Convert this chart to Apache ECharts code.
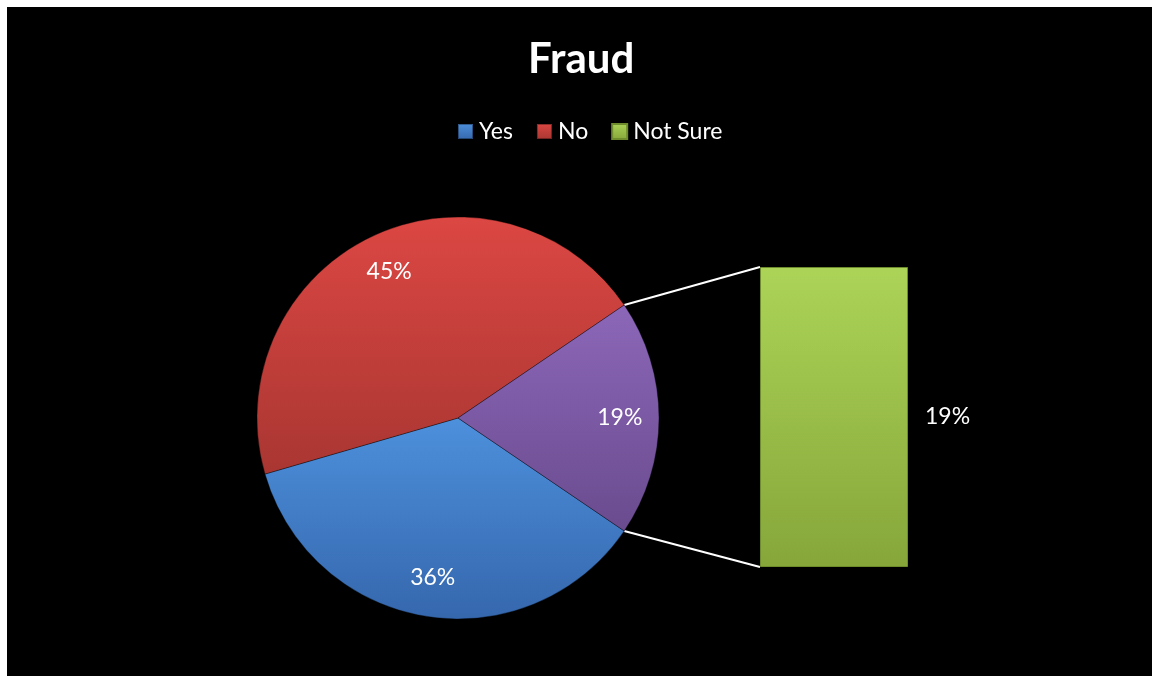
<!DOCTYPE html>
<html>
<head>
<meta charset="utf-8">
<script src="https://cdn.jsdelivr.net/npm/echarts@6/dist/echarts.min.js"></script>
<style>
  html, body { margin: 0; padding: 0; background: #fff; }
  #chart { width: 1152px; height: 676px; }
</style>
</head>
<body>
<div id="chart"></div>
<script>
// Survey answers to "Fraud" (percent of respondents)
const categories = ['Yes', 'No', 'Not Sure'];
const shares = [36, 45, 19];
// The last answer is broken out into the side bar
const barCategories = ['Not Sure'];
const barValues = [19];

const FONT = 'Lato, "Open Sans", sans-serif';

function vGrad(top, bottom) {
  return new echarts.graphic.LinearGradient(0, 0, 0, 1, [
    { offset: 0, color: top },
    { offset: 1, color: bottom }
  ]);
}

const blue = vGrad('#4d90dc', '#3567ad');
const red = vGrad('#dc4743', '#a93632');
const purple = vGrad('#8c67b9', '#6a4b8e');
const green = vGrad('#acd457', '#86a63a');
const sliceColors = [blue, red, purple];
const legendColors = [blue, red, green];

const pieCenter = [458, 418];
const pieRadius = 201;

// The broken-out slice sits centred on the right side of the pie
const total = shares.reduce((a, b) => a + b, 0);
const lastShare = shares[shares.length - 1];
const startAngle = -(360 * lastShare / total) / 2;

const pieData = categories.map((name, i) => ({
  name: name,
  value: shares[i],
  itemStyle: { color: sliceColors[i] }
}));

const chart = echarts.init(document.getElementById('chart'));

const option = {
  backgroundColor: '#ffffff',
  animation: false,
  title: {
    text: 'Fraud',
    left: 523,
    top: 33,
    textStyle: { color: '#ffffff', fontFamily: FONT, fontWeight: 'bold', fontSize: 42 }
  },
  legend: {
    left: 452,
    top: 115,
    icon: 'rect',
    itemWidth: 15,
    itemHeight: 15,
    itemGap: 23,
    textStyle: { color: '#ffffff', fontFamily: FONT, fontSize: 23, padding: [0, 0, 0, 1] },
    data: categories.map((name, i) => ({ name: name, itemStyle: { color: legendColors[i] } }))
  },
  grid: { left: 760, top: 267, width: 148, height: 300 },
  xAxis: {
    type: 'category',
    data: barCategories,
    show: false
  },
  yAxis: {
    type: 'value',
    min: 0,
    max: barValues[0],
    show: false
  },
  series: [
    {
      type: 'pie',
      name: 'Fraud',
      center: pieCenter,
      radius: [0, pieRadius],
      startAngle: startAngle,
      clockwise: true,
      label: { show: false },
      labelLine: { show: false },
      emphasis: { disabled: true },
      silent: true,
      itemStyle: { borderColor: 'rgba(0,0,0,0.35)', borderWidth: 1 },
      data: pieData,
      z: 3
    },
    {
      // transparent ring that carries the percentage labels
      type: 'pie',
      center: pieCenter,
      radius: [pieRadius * 0.58, pieRadius],
      startAngle: startAngle,
      clockwise: true,
      silent: true,
      emphasis: { disabled: true },
      legendHoverLink: false,
      itemStyle: { color: 'rgba(0,0,0,0)' },
      label: {
        show: true,
        position: 'inside',
        color: '#ffffff',
        fontFamily: FONT,
        fontSize: 23,
        formatter: p => p.value + '%'
      },
      labelLine: { show: false },
      data: categories.map((name, i) => ({ name: name, value: shares[i] })),
      z: 4
    },
    {
      type: 'bar',
      name: 'Not Sure',
      data: barValues,
      barWidth: '100%',
      silent: true,
      itemStyle: { color: green, borderColor: '#6f8c2c', borderWidth: 1 },
      label: {
        show: true,
        position: 'right',
        distance: 17,
        color: '#ffffff',
        fontFamily: FONT,
        fontSize: 23,
        formatter: p => p.value + '%'
      },
      z: 3
    }
  ],
  graphic: [
    { type: 'rect', z: -10, shape: { x: 7, y: 7, width: 1145, height: 669 }, style: { fill: '#000000' } }
  ]
};

chart.setOption(option);

// Connector lines from the broken-out slice to the corners of the bar
const rect = chart.getModel().getComponent('grid', 0).coordinateSystem.getRect();
const upperAngle = (startAngle - 360 * (total - lastShare) / total) * Math.PI / 180;
const lowerAngle = (startAngle - 360) * Math.PI / 180;
function piePoint(a) {
  return [pieCenter[0] + pieRadius * Math.cos(a), pieCenter[1] - pieRadius * Math.sin(a)];
}
const p1 = piePoint(upperAngle);
const p2 = piePoint(lowerAngle);
chart.setOption({
  graphic: [
    { type: 'rect', z: -10, shape: { x: 7, y: 7, width: 1145, height: 669 }, style: { fill: '#000000' } },
    { type: 'line', z: 1, shape: { x1: p1[0], y1: p1[1], x2: rect.x, y2: rect.y }, style: { stroke: '#ffffff', lineWidth: 2 } },
    { type: 'line', z: 1, shape: { x1: p2[0], y1: p2[1], x2: rect.x, y2: rect.y + rect.height }, style: { stroke: '#ffffff', lineWidth: 2 } }
  ]
});
</script>
</body>
</html>
